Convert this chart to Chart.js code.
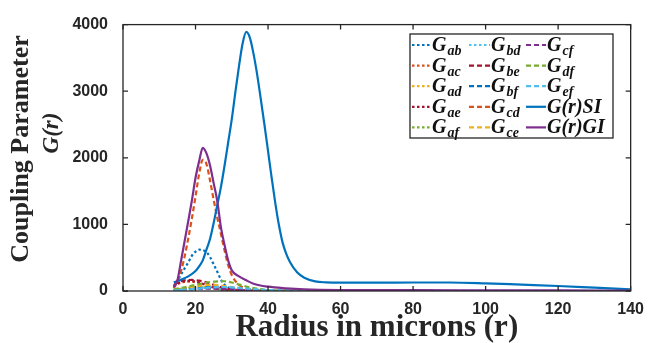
<!DOCTYPE html>
<html>
<head>
<meta charset="utf-8">
<script src="https://cdn.jsdelivr.net/npm/chart.js@4.4.1/dist/chart.umd.min.js"></script>
<style>
    html, body { margin: 0; padding: 0; background: #fff; }
    #wrap { width: 653px; height: 343px; }
</style>
</head>
<body>
<div id="wrap"><canvas id="couplingChart" width="653" height="343"></canvas></div>
<script>
// radius grid shared by the pairwise coupling curves (microns)
const rPair = [14, 15, 16, 17, 18, 19, 20, 21, 22, 23, 24, 25, 26, 27, 28, 29, 30, 32, 35, 40, 50, 70, 100, 140];

const gAB = [60, 150, 250, 340, 430, 530, 590, 620, 615, 585, 510, 400, 290, 170, 95, 55, 35, 15, 6, 2, 1, 0, 0, 0];
const gAC = [60, 100, 125, 138, 142, 140, 132, 120, 105, 88, 70, 52, 36, 24, 15, 10, 7, 3, 1, 0, 0, 0, 0, 0];
const gAD = [15, 25, 35, 45, 52, 58, 62, 62, 60, 56, 50, 43, 36, 29, 22, 16, 11, 5, 2, 1, 0, 0, 0, 0];
const gAE = [70, 110, 135, 148, 152, 150, 142, 128, 110, 90, 70, 52, 36, 24, 15, 10, 6, 3, 1, 0, 0, 0, 0, 0];
const gAF = [10, 18, 28, 38, 46, 52, 55, 55, 52, 48, 42, 36, 29, 22, 16, 11, 8, 4, 2, 1, 0, 0, 0, 0];
const gBD = [8, 12, 16, 21, 26, 31, 35, 39, 42, 44, 45, 45, 43, 40, 36, 31, 27, 19, 11, 5, 2, 1, 0, 0];
const gBE = [90, 125, 148, 160, 165, 166, 163, 156, 145, 130, 112, 93, 75, 58, 44, 32, 23, 12, 5, 2, 1, 0, 0, 0];
const gBF = [10, 14, 19, 25, 31, 38, 45, 52, 58, 63, 66, 68, 68, 66, 63, 58, 52, 40, 23, 8, 2, 1, 0, 0];
const gCD = [40, 150, 300, 520, 790, 1090, 1420, 1760, 1970, 1910, 1660, 1370, 1100, 860, 610, 390, 240, 90, 30, 8, 2, 0, 0, 0];
const gCE = [15, 22, 30, 40, 50, 60, 70, 78, 85, 90, 92, 91, 88, 82, 74, 65, 56, 38, 20, 7, 2, 0, 0, 0];
const gCF = [8, 11, 14, 18, 21, 25, 28, 31, 33, 35, 36, 36, 35, 33, 31, 28, 25, 19, 12, 5, 2, 1, 0, 0];
const gDF = [25, 35, 45, 56, 68, 80, 92, 104, 115, 125, 133, 140, 145, 147, 146, 140, 128, 98, 55, 15, 3, 1, 0, 0];
const gEF = [8, 11, 14, 18, 22, 27, 32, 37, 42, 47, 51, 55, 58, 60, 60, 58, 55, 46, 32, 14, 4, 2, 1, 1];

// total coupling, spatial and gradient index profiles
const rSI = [14, 16, 18, 20, 21, 22, 23, 24, 25, 26, 27, 28, 29, 30, 31, 32, 33, 34, 35, 36, 37, 38, 39, 40,
             41, 42, 43, 44, 45, 46, 48, 50, 53, 56, 60, 70, 80, 90, 100, 110, 120, 130, 140];
const gSI = [130, 170, 220, 300, 370, 460, 620, 780, 1020, 1290, 1560, 1880, 2230, 2580, 2990, 3380, 3720, 3890, 3800, 3560, 3250, 2880, 2500, 2100,
             1700, 1320, 990, 730, 560, 440, 280, 200, 145, 130, 125, 125, 128, 128, 115, 95, 75, 50, 25];
const rGI = [14, 15, 16, 17, 18, 19, 20, 21, 22, 23, 24, 25, 26, 27, 28, 29, 30, 32, 34, 36, 40, 45, 50, 60, 80, 100, 120, 140];
const gGI = [60, 160, 450, 750, 1050, 1360, 1700, 1950, 2150, 2070, 1885, 1620, 1350, 960, 690, 460, 310, 220, 160, 110, 65, 40, 25, 15, 12, 10, 8, 6];

const xTicks = [0, 20, 40, 60, 80, 100, 120, 140];
const yTicks = [0, 1000, 2000, 3000, 4000];

const C = {
    blue: '#0072BD', orange: '#D95319', yellow: '#EDB120', purple: '#7E2F8E',
    green: '#77AC30', cyan: '#4DBEEE', red: '#A2142F'
};
const DOT = [2.5, 2.5];
const DASH = [5, 3];
const AX = '#262626';

// name, subscript, radii, values, colour, dash
const series = [
    ['G', 'ab', rPair, gAB, C.blue, DOT],
    ['G', 'ac', rPair, gAC, C.orange, DOT],
    ['G', 'ad', rPair, gAD, C.yellow, DOT],
    ['G', 'ae', rPair, gAE, C.red, DOT],
    ['G', 'af', rPair, gAF, C.green, DOT],
    ['G', 'bd', rPair, gBD, C.cyan, DOT],
    ['G', 'be', rPair, gBE, C.red, DASH],
    ['G', 'bf', rPair, gBF, C.blue, DASH],
    ['G', 'cd', rPair, gCD, C.orange, DASH],
    ['G', 'ce', rPair, gCE, C.yellow, DASH],
    ['G', 'cf', rPair, gCF, C.purple, DASH],
    ['G', 'df', rPair, gDF, C.green, DASH],
    ['G', 'ef', rPair, gEF, C.cyan, DASH],
    ['G(r)SI', '', rSI, gSI, C.blue, []],
    ['G(r)GI', '', rGI, gGI, C.purple, []]
];

const datasets = series.map(([name, sub, rs, vals, color, dash], i) => ({
    label: name + sub,
    sub: sub,
    data: rs.map((r, k) => ({ x: r, y: vals[k] })),
    borderColor: color,
    borderWidth: 2.2,
    borderDash: dash,
    pointRadius: 0,
    fill: false,
    cubicInterpolationMode: 'monotone',
    order: -i
}));

// box frame with inward ticks on all four sides
const frame = {
    id: 'frame',
    afterDraw(chart) {
        const { ctx, chartArea: a, scales: { x, y } } = chart;
        ctx.save();
        ctx.strokeStyle = AX;
        ctx.lineWidth = 1.3;
        ctx.strokeRect(a.left, a.top, a.right - a.left, a.bottom - a.top);
        ctx.beginPath();
        xTicks.forEach(v => {
            const px = x.getPixelForValue(v);
            ctx.moveTo(px, a.bottom); ctx.lineTo(px, a.bottom - 5);
            ctx.moveTo(px, a.top); ctx.lineTo(px, a.top + 5);
        });
        yTicks.forEach(v => {
            const py = y.getPixelForValue(v);
            ctx.moveTo(a.left, py); ctx.lineTo(a.left + 5, py);
            ctx.moveTo(a.right, py); ctx.lineTo(a.right - 5, py);
        });
        ctx.stroke();
        ctx.restore();
    }
};

// two-line vertical axis title
const yTitle = {
    id: 'yTitle',
    afterDraw(chart) {
        const ctx = chart.ctx;
        const line = (text, font, cx, cy) => {
            ctx.save();
            ctx.fillStyle = AX;
            ctx.textAlign = 'center';
            ctx.textBaseline = 'middle';
            ctx.translate(cx, cy);
            ctx.rotate(-Math.PI / 2);
            ctx.font = font;
            ctx.fillText(text, 0, 0);
            ctx.restore();
        };
        line('Coupling Parameter', 'bold 26px "Liberation Serif"', 21, 149);
        line('G(r)', 'bold italic 23px "Liberation Serif"', 52, 133);
    }
};

// legend in three columns, filled column by column
const legendBox = {
    id: 'legendBox',
    afterDraw(chart) {
        const ctx = chart.ctx;
        const box = { x: 410, y: 34, w: 203, h: 104 };
        const colLine = [412, 469, 526];
        const colLen = [18, 21, 20];
        const colText = [432, 491, 547];
        ctx.save();
        ctx.fillStyle = '#fff';
        ctx.fillRect(box.x, box.y, box.w, box.h);
        ctx.strokeStyle = AX;
        ctx.lineWidth = 1.3;
        ctx.strokeRect(box.x, box.y, box.w, box.h);
        chart.data.datasets.forEach((ds, i) => {
            const col = Math.floor(i / 5), row = i % 5;
            const cy = 45 + row * 20.6;
            ctx.beginPath();
            ctx.setLineDash(ds.borderDash);
            ctx.strokeStyle = ds.borderColor;
            ctx.lineWidth = 2.2;
            ctx.moveTo(colLine[col], cy);
            ctx.lineTo(colLine[col] + colLen[col], cy);
            ctx.stroke();
            ctx.setLineDash([]);
            ctx.fillStyle = '#111';
            ctx.textAlign = 'left';
            ctx.textBaseline = 'alphabetic';
            ctx.font = 'bold italic 20px "Liberation Serif"';
            const main = series[i][0];
            ctx.fillText(main, colText[col], cy + 6);
            if (ds.sub) {
                const w = ctx.measureText(main).width;
                ctx.font = 'bold italic 14px "Liberation Serif"';
                ctx.fillText(ds.sub, colText[col] + w + 1, cy + 10);
            }
        });
        ctx.restore();
    }
};

new Chart(document.getElementById('couplingChart'), {
    type: 'line',
    data: { datasets },
    options: {
        responsive: false,
        animation: false,
        devicePixelRatio: 1,
        layout: { padding: { top: 19, right: 11, left: 0, bottom: 0 } },
        plugins: { legend: { display: false }, tooltip: { enabled: false } },
        scales: {
            x: {
                type: 'linear',
                min: 0,
                max: 140,
                afterBuildTicks: s => { s.ticks = xTicks.map(v => ({ value: v })); },
                afterFit: s => { s.height = 52; },
                grid: { display: false, drawTicks: false },
                border: { display: false },
                ticks: {
                    padding: 9,
                    color: AX,
                    maxRotation: 0,
                    callback: v => String(v),
                    font: { family: '"Liberation Sans"', weight: 'bold', size: 16 }
                },
                title: {
                    display: true,
                    text: 'Radius in microns (r)',
                    color: AX,
                    font: { family: '"Liberation Serif"', weight: 'bold', size: 31, lineHeight: 1 },
                    padding: { top: 0, bottom: 0 }
                }
            },
            y: {
                min: 0,
                max: 4000,
                afterBuildTicks: s => { s.ticks = yTicks.map(v => ({ value: v })); },
                afterFit: s => { s.width = 123; },
                grid: { display: false, drawTicks: false },
                border: { display: false },
                ticks: {
                    padding: 15,
                    color: AX,
                    callback: v => String(v),
                    font: { family: '"Liberation Sans"', weight: 'bold', size: 16 }
                }
            }
        }
    },
    plugins: [frame, yTitle, legendBox]
});
</script>
</body>
</html>
